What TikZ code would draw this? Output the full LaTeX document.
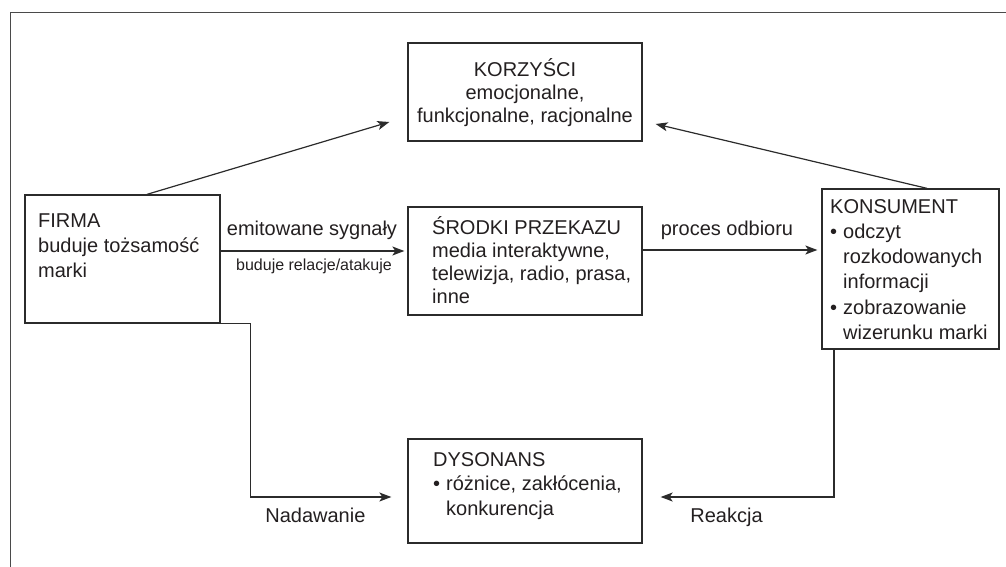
\documentclass[tikz,border=0pt]{standalone}
\usepackage{fontspec}
\setmainfont{Liberation Sans}
\usetikzlibrary{arrows.meta}

\definecolor{ink}{HTML}{231F20}
\definecolor{edge}{HTML}{2B2B2B}
\definecolor{framegray}{HTML}{4A4A4A}

\tikzset{
  box/.style={draw=edge, line width=1.3pt, rectangle, inner sep=0pt},
  boxtext/.style={inner sep=0pt, align=left, text=ink},
  arr/.style={draw=edge, line width=1.2pt, -{Stealth[length=12pt,width=9pt,inset=3pt]}},
  lbl/.style={text=ink, inner sep=0pt, font=\fontsize{20}{24}\selectfont},
  smalllbl/.style={text=ink, inner sep=0pt, font=\fontsize{16}{19}\selectfont},
  frameline/.style={draw=framegray, line width=0.9pt},
}
\newcommand{\bulletitem}{\makebox[13pt][l]{\textbullet}}
\newcommand{\bulletcont}{\makebox[13pt][l]{}}

\begin{document}
\begin{tikzpicture}[x=1pt, y=-1pt]
  \useasboundingbox (0,0) rectangle (1006,567);

  % outer frame (left and top edges only)
  \draw[frameline] (10,567) -- (10,12) -- (1006,12);

  % boxes
  \node[box, minimum width=195pt, minimum height=128pt] (firma)  at (122.5,259) {};
  \node[box, minimum width=234pt, minimum height=98pt]  (korz)   at (525,92) {};
  \node[box, minimum width=234pt, minimum height=108pt] (srodki) at (525,261) {};
  \node[box, minimum width=177pt, minimum height=160pt] (kons)   at (910.5,269) {};
  \node[box, minimum width=234pt, minimum height=104pt] (dys)    at (525,491) {};

  % box texts (anchored at the baseline of their last line)
  \node[boxtext, anchor=base west, font=\fontsize{20}{25}\selectfont] (firmatxt) at (38,277)
    {FIRMA\\buduje tożsamość\\marki};
  \node[boxtext, align=center, anchor=base, font=\fontsize{20}{23}\selectfont] (korztxt) at (525,123)
    {KORZYŚCI\\emocjonalne,\\funkcjonalne, racjonalne};
  \node[boxtext, anchor=base west, font=\fontsize{20}{23}\selectfont] (srodkitxt) at (432,303)
    {ŚRODKI PRZEKAZU\\media interaktywne,\\telewizja, radio, prasa,\\inne};
  \node[boxtext, anchor=base west, font=\fontsize{20}{25.3}\selectfont] (konstxt) at (830,339.5)
    {KONSUMENT\\\bulletitem odczyt\\\bulletcont rozkodowanych\\\bulletcont informacji\\\bulletitem zobrazowanie\\\bulletcont wizerunku marki};
  \node[boxtext, anchor=base west, font=\fontsize{20}{24.5}\selectfont] (dystxt) at (433,515)
    {DYSONANS\\\bulletitem różnice, zakłócenia,\\\bulletcont konkurencja};

  % connectors
  \draw[arr] ([xshift=24.5pt]firma.north) -- ([shift={(-18,30)}]korz.west);
  \draw[arr] ([xshift=16.5pt]kons.north) -- ([shift={(13,32)}]korz.east);

  \coordinate (e1) at ([yshift=8pt]firma.east);
  \draw[arr, shorten >=3pt] (e1) -- (e1 -| srodki.west)
    node[midway, lbl, anchor=base, yshift=16pt, xshift=-2pt] (lemit) {emitowane sygnały}
    node[midway, smalllbl, anchor=base, yshift=-19pt] (lrel) {buduje relacje/atakuje};

  \coordinate (s1) at ([yshift=11pt]srodki.east);
  \draw[arr, shorten >=4pt] (s1) -- (s1 -| kons.west)
    node[midway, lbl, anchor=base, yshift=15pt, xshift=-5pt] (lodb) {proces odbioru};

  \draw[arr] (firma.south east) -- ++(30,0)
    |- node[pos=0.73, lbl, anchor=base, yshift=-25pt] (lnad) {Nadawanie}
    ([shift={(-16,6)}]dys.west);

  \draw[arr] ([xshift=-76.5pt]kons.south)
    |- node[pos=0.81, lbl, anchor=base, yshift=-25pt] (lreak) {Reakcja}
    ([shift={(18,6)}]dys.east);
\end{tikzpicture}
\end{document}
